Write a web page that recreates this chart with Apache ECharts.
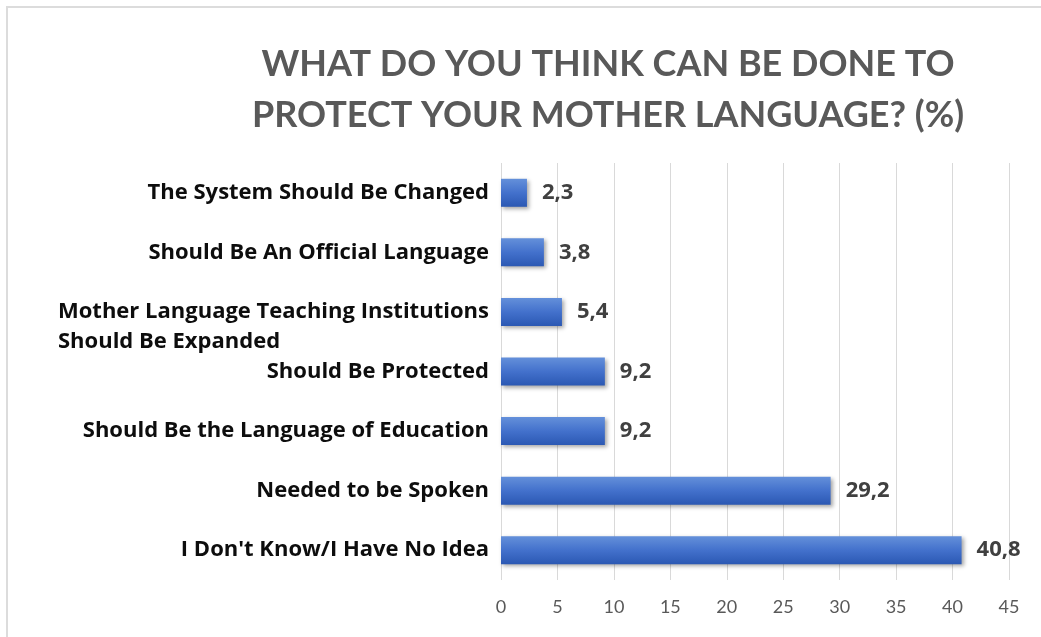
<!DOCTYPE html>
<html>
<head>
<meta charset="utf-8">
<script src="https://cdn.jsdelivr.net/npm/echarts@6/dist/echarts.min.js"></script>
<style>
  html, body { margin: 0; padding: 0; background: #fff; }
  #main { width: 1041px; height: 637px; }
</style>
</head>
<body>
<div id="main"></div>
<script>
var categories = [
    "I Don't Know/I Have No Idea",
    'Needed to be Spoken',
    'Should Be the Language of Education',
    'Should Be Protected',
    'Mother Language Teaching Institutions\nShould Be Expanded',
    'Should Be An Official Language',
    'The System Should Be Changed'
];
var values = [40.8, 29.2, 9.2, 9.2, 5.4, 3.8, 2.3];
var xTicks = [0, 5, 10, 15, 20, 25, 30, 35, 40, 45];

var labelFont = 'bold 22px "Open Sans"';

// width of a line, used to keep the two-line label left aligned
function textWidth(txt) {
    var c = document.createElement('canvas').getContext('2d');
    c.font = labelFont;
    return Math.ceil(c.measureText(txt).width);
}

var chart = echarts.init(document.getElementById('main'));

// the two-line label sits with its first line on the bar, like the original
var yData = categories.map(function (c) {
    if (c.indexOf('\n') < 0) return c;
    return { value: c, textStyle: { padding: [30, 0, 0, 0] } };
});

var option = {
    backgroundColor: '#fff',
    title: {
        text: 'WHAT DO YOU THINK CAN BE DONE TO\nPROTECT YOUR MOTHER LANGUAGE? (%)',
        left: 603,
        top: 34,
        textAlign: 'center',
        textStyle: {
            fontFamily: 'Lato',
            fontWeight: 'bold',
            fontSize: 36,
            lineHeight: 51,
            color: '#595959'
        }
    },
    graphic: [{
        type: 'rect',
        shape: { x: 7, y: 7, width: 1060, height: 660 },
        style: { fill: 'none', stroke: '#dcdcdc', lineWidth: 2 },
        silent: true
    }],
    grid: {
        left: 501,
        right: 32,
        top: 163,
        bottom: 57
    },
    xAxis: {
        type: 'value',
        min: 0,
        max: 45,
        interval: 5,
        axisLine: { show: false },
        axisTick: { show: false },
        splitLine: { lineStyle: { color: '#d9d9d9', width: 1 } },
        axisLabel: {
            color: '#595959',
            fontFamily: 'Lato',
            fontSize: 18,
            margin: 18,
            formatter: function (v) { return xTicks.indexOf(v) >= 0 ? String(v) : ''; }
        }
    },
    yAxis: {
        type: 'category',
        data: yData,
        axisLine: { show: false },
        axisTick: { show: false },
        axisLabel: {
            color: '#0d0d0d',
            fontFamily: 'Open Sans',
            fontWeight: 'bold',
            fontSize: 22,
            lineHeight: 30,
            margin: 12,
            formatter: function (v) {
                if (v.indexOf('\n') < 0) return v;
                return v.split('\n').map(function (p) { return '{m|' + p + '}'; }).join('\n');
            },
            rich: {
                m: {
                    width: textWidth('Mother Language Teaching Institutions'),
                    align: 'left',
                    color: '#0d0d0d',
                    fontFamily: 'Open Sans',
                    fontWeight: 'bold',
                    fontSize: 22,
                    lineHeight: 30
                }
            }
        }
    },
    series: [{
        type: 'bar',
        data: values,
        barWidth: 28,
        itemStyle: {
            color: new echarts.graphic.LinearGradient(0, 0, 0, 1, [
                { offset: 0, color: '#6490da' },
                { offset: 0.5, color: '#4371cc' },
                { offset: 1, color: '#2b58b3' }
            ]),
            shadowColor: 'rgba(0,0,0,0.35)',
            shadowBlur: 4,
            shadowOffsetX: 2,
            shadowOffsetY: 2
        },
        label: {
            show: true,
            position: 'right',
            distance: 15,
            color: '#404040',
            fontFamily: 'Open Sans',
            fontWeight: 'bold',
            fontSize: 22,
            formatter: function (p) { return String(p.value).replace('.', ','); }
        }
    }]
};

chart.setOption(option);
</script>
</body>
</html>
